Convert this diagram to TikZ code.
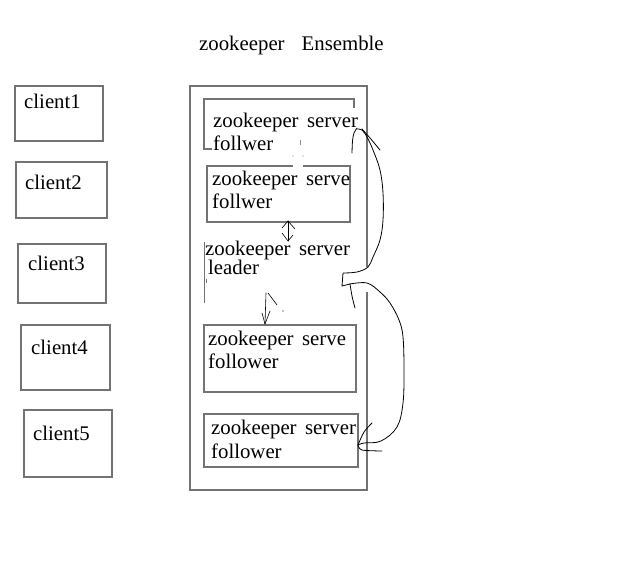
\documentclass[tikz,border=0pt]{standalone}
\usepackage{fontspec}
\setmainfont{Liberation Serif}
\newcommand{\wsp}{\hspace{8.5pt}}
\begin{document}
\begin{tikzpicture}[x=1pt,y=-1pt,
  boxline/.style={draw=black!55,line width=1.6pt},
  txt/.style={anchor=base west,inner sep=0pt,font=\fontsize{20.8}{23}\selectfont},
  pen/.style={draw=black,line width=0.8pt,line cap=round,line join=round},
  spot/.style={draw=black!45,line width=0.8pt}]
\useasboundingbox (0,0) rectangle (643,577);
% title
\node[txt] (title) at (199,51) {zookeeper\hspace{17pt}Ensemble};
% clients
\node[boxline,minimum width=88pt,minimum height=55pt,inner sep=0pt] (c1) at (59,113.5) {};
\node[boxline,minimum width=91pt,minimum height=56pt,inner sep=0pt] (c2) at (61.5,190) {};
\node[boxline,minimum width=88pt,minimum height=59pt,inner sep=0pt] (c3) at (62,273.5) {};
\node[boxline,minimum width=89pt,minimum height=65pt,inner sep=0pt] (c4) at (65.5,357.5) {};
\node[boxline,minimum width=88pt,minimum height=67pt,inner sep=0pt] (c5) at (68,443.5) {};
\node[txt] (t1) at (24,109) {client1};
\node[txt] (t2) at (25,190) {client2};
\node[txt] (t3) at (28,271) {client3};
\node[txt] (t4) at (31,355) {client4};
\node[txt] (t5) at (33,440) {client5};
% ensemble outline (right side broken)
\coordinate (ea) at (367,267);
\coordinate (eb) at (367,292);
\draw[boxline] (ea) -- (367,86) -- (190,86) -- (190,490) -- (367,490) -- (eb);
% server 1 (partial outline)
\draw[boxline] (212,149) -- (204,149) -- (204,99) -- (354,99) -- (354,108);
\node[txt] (s1a) at (213,128) {zookeeper\wsp server};
\node[txt] (s1b) at (213,151) {follwer};
% server 2 (gap in top line)
\draw[boxline] (293,166) -- (207,166) -- (207,222) -- (350,222) -- (350,166) -- (303,166);
\node[txt] (s2a) at (212,186) {zookeeper\wsp serve};
\node[txt] (s2b) at (212,209) {follwer};
\draw[spot] (300,140) -- (300,145);
\fill[black!45] (293,156) circle (0.7pt) (303,156) circle (0.7pt);
% leader
\draw[draw=black!55,line width=1pt] (204,242) -- (204,303);
\draw[draw=black!55,line width=0.8pt] (206,279) -- (206,283);
\node[txt] (la) at (205,256) {zookeeper\wsp server};
\node[txt] (lb) at (208,275) {leader};
% server 3
\node[boxline,minimum width=152pt,minimum height=67pt,inner sep=0pt] (s3) at (280,358.5) {};
\node[txt] (s3a) at (208,346) {zookeeper\wsp serve};
\node[txt] (s3b) at (208,369) {follower};
% server 4
\node[boxline,minimum width=154pt,minimum height=53pt,inner sep=0pt] (s4) at (281,440.5) {};
\node[txt] (s4a) at (211,435) {zookeeper\wsp server};
\node[txt] (s4b) at (211,458) {follower};
% double arrow between server 2 and leader
\coordinate (da) at (288,221);
\coordinate (db) at (288,241);
\draw[pen,line width=0.6pt] (da) -- (db);
\draw[pen,line width=0.6pt] (282,228) -- (da) -- (295,229);
\draw[pen,line width=0.6pt] (282,233) -- (db) -- (293,235);
% arrow leader -> server 3
\coordinate (aa) at (266,293);
\coordinate (ab) at (265,324);
\draw[pen,line width=0.6pt] (aa) -- (ab);
\draw[pen,line width=0.6pt] (262,313) -- (ab) -- (270,311);
\draw[pen,line width=0.6pt] (268,293) -- (277,305);
\fill (283,311) circle (0.6pt);
% hand-drawn curve server1 -> leader
\coordinate (k1) at (357,129);
\coordinate (k2) at (350,284);
\coordinate (k3) at (358,445);
\draw[pen] (k1) plot[smooth,tension=0.6] coordinates {(357,129) (362,130) (367,137) (373,150) (380,170) (383,193) (383,220) (380,240) (373,257) (368,267) (357,272) (343,273)} -- (342,286) -- (k2);
\draw[pen] plot[smooth] coordinates {(352,153) (352.5,141) (354,133) (357,128)};
\draw[pen] plot[smooth] coordinates {(362,129) (370,138) (380,150)};
% hand-drawn curve leader -> server4
\draw[pen] (k2) plot[smooth,tension=0.6] coordinates {(350,284) (367,283) (380,292) (390,303) (399,320) (403,337) (404,370) (403,403) (397,427) (381,441) (364,443) (358,445)};
\draw[pen] plot[smooth] coordinates {(350,284) (352,296) (355,308)};
\draw[pen] plot[smooth] coordinates {(358,445) (362,450) (382,451)};
\draw[pen] plot[smooth] coordinates {(358,445) (364,432) (372,423)};
\end{tikzpicture}
\end{document}
